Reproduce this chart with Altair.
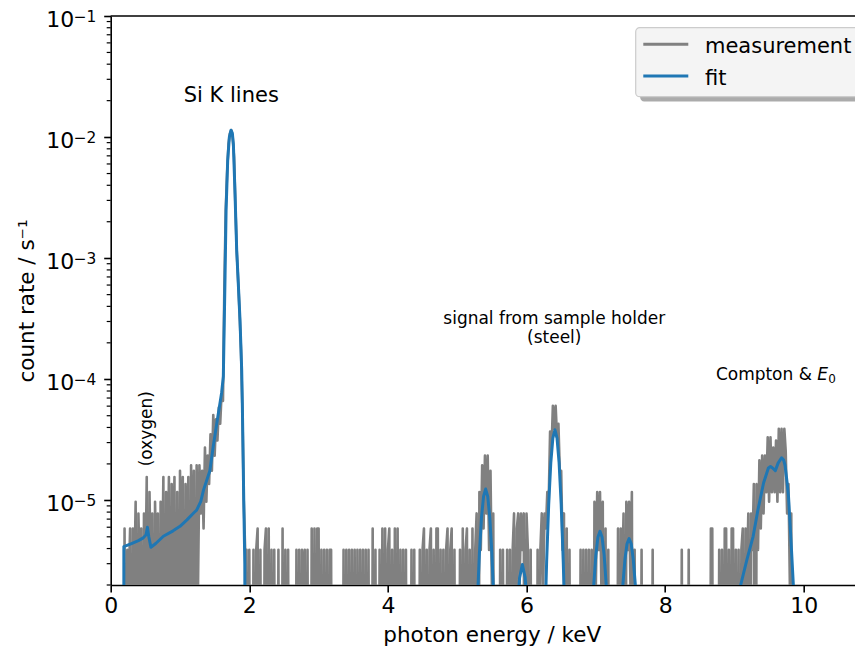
import math
import altair as alt
import pandas as pd

# ---------------------------------------------------------------- data
CHANNEL_KEV = 0.02          # channel width of the spectrum (keV)
RATE_PER_COUNT = 1.95e-6    # count rate of one registered count (s^-1)
EMPTY_RATE = 1e-9           # empty channels: drawn far below the axis (clipped)

# measured counts per channel, by spectral region
LOW_START = 0.18
LOW_COUNTS = [0, 3, 0, 2, 1, 3, 0, 3, 1, 5,
              0, 4, 1, 3, 0, 4, 1, 8, 0, 6,
              1, 4, 0, 5, 1, 4, 0, 5, 1, 8,
              0, 6, 1, 8, 0, 7, 1, 8, 0, 6,
              0, 9, 1, 8, 0, 7, 1, 8, 0, 10,
              1, 9, 0, 10, 1, 10, 4, 9, 3, 14,
              5, 12, 7, 18, 9, 26, 12, 24, 16, 30,
              22, 39, 34]
SI_START = 1.64
SI_COUNTS = [300, 1300, 2600, 4500, 5500, 5850, 5100, 3500, 1350, 560,
             330, 180, 90, 30, 5, 2]
BG_START = 1.96
BG_COUNTS = [2, 0, 2, 0, 0, 2, 0, 2, 3, 0,
             2, 0, 0, 2, 3, 0, 3, 0, 2, 0,
             2, 0, 0, 2, 0, 0, 3, 0, 2, 0,
             2, 0, 0, 0, 0, 0, 2, 0, 2, 0,
             2, 1, 2, 0, 2, 0, 0, 3, 0, 3,
             0, 3, 3, 0, 2, 0, 2, 0, 2, 0,
             2, 2, 0, 0, 0, 0, 0, 0, 0, 0,
             2, 0, 2, 0, 2, 0, 2, 0, 2, 0,
             2, 0, 2, 0, 2, 0, 2, 0, 2, 0,
             0, 3, 0, 2, 0, 0, 2, 0, 3, 0,
             3, 0, 2, 3, 0, 2, 0, 3, 0, 3,
             0, 2, 0, 2, 0, 2, 0, 0, 0, 2,
             0, 2, 0, 0, 0, 2, 0, 2, 3, 0,
             2, 0, 2, 3, 0, 2, 0, 3, 3, 0,
             2, 0, 2, 0, 2, 3, 0, 2, 3, 0,
             2, 0, 0, 0, 2, 0, 3, 0, 2, 3,
             0, 2, 0, 3, 0, 2]
STEEL_START = 5.28
STEEL_COUNTS = [4, 0, 6, 2, 10, 3, 12, 4, 12, 2,
                9, 1, 4, 0, 0, 0, 0, 2, 0, 2,
                0, 0, 2, 0, 2, 0, 2, 4, 0, 3,
                4, 1, 4, 2, 4, 0, 4, 2, 0, 2,
                0, 0, 0, 0, 2, 0, 2, 4, 1, 4,
                3, 6, 5, 19, 13, 31, 20, 31, 17, 22,
                9, 9, 2, 4, 0, 3, 0, 2, 0, 0,
                0, 0, 0, 0, 0, 2, 0, 2, 0, 2,
                0, 2, 0, 2, 0, 5, 1, 6, 2, 6,
                1, 5, 0, 3, 0, 2, 0]
TAIL_START = 7.22
TAIL_COUNTS = [0, 0, 0, 0, 0, 3, 0, 3, 1, 4,
               0, 5, 2, 5, 1, 6, 0, 2, 0, 0,
               0, 0, 2, 0, 0, 0, 0, 0, 0, 0,
               2, 0, 0, 0, 0, 0, 0, 0, 0, 0,
               0, 0, 0, 0, 0, 0, 0, 0, 0, 0,
               0, 2, 0, 0, 0, 0, 2, 0, 0, 0,
               0, 0, 0, 0, 0, 0, 0, 0, 0, 0,
               0, 0, 3, 3, 0, 0, 0, 0, 2, 0,
               2, 0, 3, 3, 0, 2, 0, 3, 3, 0,
               2, 0, 2, 0, 2, 3]
COMPTON_START = 9.14
COMPTON_COUNTS = [0, 3, 1, 4, 0, 4, 2, 7, 0, 7,
                  2, 11, 3, 12, 4, 12, 6, 17, 5, 17,
                  6, 14, 6, 16, 5, 20, 6, 20, 6, 20,
                  13, 4, 7, 1, 4, 0, 0, 0, 0]

# fitted model (energy in keV, count rate in s^-1)
FIT_ENERGY = [0.188, 0.19, 0.30, 0.40, 0.47, 0.51, 0.53, 0.55, 0.58, 0.65,
              0.76, 0.90, 1.00, 1.10, 1.20, 1.24, 1.30, 1.34, 1.43, 1.48,
              1.53, 1.60, 1.625, 1.65, 1.665, 1.688, 1.712, 1.736, 1.755, 1.77,
              1.794, 1.818, 1.841, 1.866, 1.89, 1.90, 1.92, 1.935, 1.95,
              5.26, 5.29, 5.32, 5.35, 5.38, 5.41, 5.44, 5.47, 5.50, 5.53, 5.56,
              5.84, 5.87, 5.90, 5.94, 5.98, 6.01, 6.04,
              6.26, 6.29, 6.32, 6.35, 6.38, 6.41, 6.44, 6.47, 6.50, 6.53, 6.56,
              6.94, 6.97, 7.00, 7.03, 7.06, 7.09, 7.12, 7.15, 7.18,
              7.36, 7.39, 7.42, 7.45, 7.48, 7.51, 7.54, 7.57, 7.60,
              9.05, 9.09, 9.18, 9.27, 9.34, 9.42, 9.49, 9.52, 9.55, 9.59,
              9.63, 9.68, 9.71, 9.73, 9.76, 9.78, 9.81, 9.85, 9.88]
FIT_RATE = [1e-9, 4.15e-6, 4.4e-6, 4.65e-6, 4.9e-6, 5.2e-6, 6.0e-6, 5.0e-6, 4.1e-6, 4.4e-6,
            5.05e-6, 5.6e-6, 6.1e-6, 6.9e-6, 7.9e-6, 8.3e-6, 9.8e-6, 1.22e-5, 1.75e-5, 2.8e-5,
            4.3e-5, 7.7e-5, 1.05e-4, 7.1e-4, 2.5e-3, 6.4e-3, 1.0e-2, 1.14e-2, 1.08e-2, 8.8e-3,
            3.4e-3, 1.17e-3, 6.2e-4, 3.05e-4, 1.2e-4, 5.9e-5, 1.0e-5, 3.0e-6, 1e-9,
            4.2e-7, 1.41e-6, 3.65e-6, 7.2e-6, 1.08e-5, 1.24e-5, 1.08e-5, 7.2e-6, 3.65e-6, 1.41e-6, 4.2e-7,
            6.2e-7, 1.38e-6, 2.3e-6, 2.95e-6, 2.3e-6, 1.38e-6, 6.2e-7,
            7.5e-7, 3.1e-6, 9.3e-6, 2.04e-5, 3.27e-5, 3.83e-5, 3.27e-5, 2.04e-5, 9.3e-6, 3.1e-6, 7.5e-7,
            9.1e-7, 2.0e-6, 3.53e-6, 4.96e-6, 5.55e-6, 4.96e-6, 3.53e-6, 2.0e-6, 9.1e-7,
            1.0e-6, 2.0e-6, 3.26e-6, 4.38e-6, 4.83e-6, 4.38e-6, 3.26e-6, 2.0e-6, 1.0e-6,
            1.2e-6, 2.0e-6, 3.24e-6, 5.05e-6, 8.4e-6, 1.39e-5, 1.85e-5, 1.9e-5, 1.85e-5, 1.76e-5,
            2.03e-5, 2.25e-5, 2.15e-5, 1.95e-5, 1.4e-5, 1.08e-5, 5.4e-6, 2.0e-6, 4e-7]

# annotations
BIG_TEXT = ["Si K lines"]
BIG_E = [1.74]
BIG_RATE = [1.96e-2]
SMALL_TEXT = ["signal from sample holder", "(steel)"]
SMALL_E = [6.40, 6.40]
SMALL_RATE = [2.84e-4, 2.0e-4]
OXY_TEXT = ["(oxygen)"]
OXY_E = [0.59]
OXY_RATE = [3.91e-5]
COMPTON_LABEL_E = [9.59]
COMPTON_LABEL_RATE = [9.87e-5]

X_TICKS = [0, 2, 4, 6, 8, 10]
Y_MAJOR = [1e-5, 1e-4, 1e-3, 1e-2, 1e-1]
MINOR_FACTORS = [2, 3, 4, 5, 6, 7, 8, 9]
MINOR_DECADES = [1e-6, 1e-5, 1e-4, 1e-3, 1e-2]

LEGEND_LABELS = ["measurement", "fit"]
LEGEND_COLORS = ["#808080", "#1f77b4"]

# ---------------------------------------------------------------- tables
rows = []
for start, counts in [(LOW_START, LOW_COUNTS), (SI_START, SI_COUNTS), (BG_START, BG_COUNTS),
                      (STEEL_START, STEEL_COUNTS), (TAIL_START, TAIL_COUNTS),
                      (COMPTON_START, COMPTON_COUNTS)]:
    for i, c in enumerate(counts):
        rows.append({"energy": round(start + i * CHANNEL_KEV, 3),
                     "rate": c * RATE_PER_COUNT if c > 0 else EMPTY_RATE})
meas_df = pd.DataFrame(rows)
fit_df = pd.DataFrame({"energy": FIT_ENERGY, "rate": FIT_RATE, "order": range(len(FIT_ENERGY))})
minor_df = pd.DataFrame({"rate": [f * d for d in MINOR_DECADES for f in MINOR_FACTORS
                                  if 2e-6 <= f * d < 0.1]})
exp_df = pd.DataFrame({"rate": Y_MAJOR,
                       "exp": ["\u2212" + str(int(round(-math.log10(v)))) for v in Y_MAJOR]})

FONT = "DejaVu Sans"
TICK_FS = 22
W, H = 744, 569
xscale = alt.Scale(domain=[0, 10.735], nice=False, zero=False)
yscale = alt.Scale(type="log", domain=[2e-6, 0.1], nice=False)

x_axis = alt.Axis(values=X_TICKS, format="d", title="photon energy / keV",
                  titleX=381, titleY=57, titleBaseline="alphabetic", titleAlign="center",
                  labelFontSize=TICK_FS, titleFontSize=21.5, tickSize=7, labelPadding=4,
                  grid=False, labelFlush=False)
y_axis = alt.Axis(values=Y_MAJOR, title="count rate / s⁻¹", labelExpr="'10'",
                  titleX=-77, titleY=284.5, titleAngle=270, titleBaseline="alphabetic",
                  titleAlign="center", labelFontSize=TICK_FS, titleFontSize=21.5, tickSize=7,
                  labelPadding=30, labelBaseline="alphabetic", labelOffset=10.5,
                  grid=False, labelFlush=False)

X = alt.X("energy:Q", scale=xscale)
Y = alt.Y("rate:Q", scale=yscale)

meas = alt.Chart(meas_df).mark_line(color="#808080", strokeWidth=2.6, clip=True,
                                    strokeJoin="round").encode(
    x=alt.X("energy:Q", scale=xscale, axis=x_axis),
    y=alt.Y("rate:Q", scale=yscale, axis=y_axis))

fit = alt.Chart(fit_df).mark_line(color="#1f77b4", strokeWidth=3, clip=True,
                                  strokeJoin="round").encode(x=X, y=Y, order="order:Q")

minor = alt.Chart(minor_df).mark_rule(color="black", strokeWidth=1.2).encode(
    y=Y, x=alt.value(-4), x2=alt.value(0))

# superscript exponents of the y tick labels (10^-n)
exps = alt.Chart(exp_df).mark_text(font=FONT, fontSize=TICK_FS * 0.7, align="right",
                                   baseline="alphabetic", dy=5.5, color="black").encode(
    y=Y, x=alt.value(-14.3), text="exp:N")

big = alt.Chart(pd.DataFrame({"t": BIG_TEXT, "energy": BIG_E, "rate": BIG_RATE})).mark_text(
    font=FONT, fontSize=21, align="center", baseline="alphabetic", color="black").encode(
    x=X, y=Y, text="t:N")

small = alt.Chart(pd.DataFrame({"t": SMALL_TEXT, "energy": SMALL_E, "rate": SMALL_RATE})).mark_text(
    font=FONT, fontSize=17, align="center", baseline="alphabetic", color="black").encode(
    x=X, y=Y, text="t:N")

oxy = alt.Chart(pd.DataFrame({"t": OXY_TEXT, "energy": OXY_E, "rate": OXY_RATE})).mark_text(
    font=FONT, fontSize=17, align="center", baseline="alphabetic", angle=270, color="black").encode(
    x=X, y=Y, text="t:N")

comp_df = pd.DataFrame({"energy": COMPTON_LABEL_E, "rate": COMPTON_LABEL_RATE})
comp_base = alt.Chart(comp_df).encode(x=X, y=Y)
comp1 = comp_base.mark_text(font=FONT, fontSize=17, align="right", baseline="alphabetic",
                            dx=36.6, text="Compton &", color="black")
comp2 = comp_base.mark_text(font=FONT, fontSize=17, align="left", baseline="alphabetic",
                            dx=42, text="E", fontStyle="italic", color="black")
comp3 = comp_base.mark_text(font=FONT, fontSize=12, align="left", baseline="alphabetic",
                            dx=53, dy=3, text="0", color="black")

one = pd.DataFrame({"k": [0]})
top_spine = alt.Chart(one).mark_rule(color="black", strokeWidth=1.6).encode(
    x=alt.value(0), x2=alt.value(W + 2), y=alt.value(0))
shadow = alt.Chart(one).mark_rect(fill="#ababab", cornerRadius=4).encode(
    x=alt.value(529.5), x2=alt.value(790), y=alt.value(16.5), y2=alt.value(85.5))
box = alt.Chart(one).mark_rect(fill="#f4f4f4", stroke="#cccccc", strokeWidth=1.2,
                               cornerRadius=4).encode(
    x=alt.value(525), x2=alt.value(785), y=alt.value(11.7), y2=alt.value(80.7))
legend_layers = []
for i, (lab, col) in enumerate(zip(LEGEND_LABELS, LEGEND_COLORS)):
    ldf = pd.DataFrame({"label": [lab]})
    legend_layers.append(alt.Chart(ldf).mark_rule(color=col, strokeWidth=3).encode(
        x=alt.value(532.6), x2=alt.value(577.6), y=alt.value(28.3 + 31.7 * i)))
    legend_layers.append(alt.Chart(ldf).mark_text(
        font=FONT, fontSize=21, align="left", baseline="alphabetic", color="black").encode(
        x=alt.value(594.3), y=alt.value(37 + 32 * i), text="label:N"))

chart = alt.layer(meas, fit, minor, exps, big, small, oxy, comp1, comp2, comp3, top_spine,
                  shadow, box, *legend_layers).properties(
    width=W, height=H,
    padding={"left": 102.7, "top": 8, "right": 0, "bottom": 61},
    autosize=alt.AutoSizeParams(type="none"),
).configure(font=FONT).configure_view(
    stroke=None
).configure_axis(
    domainColor="black", domainWidth=1.6, tickColor="black", tickWidth=1.6,
    labelColor="black", titleColor="black", labelFont=FONT, titleFont=FONT,
    titleFontWeight="normal")

chart.save("out.html", embed_options={"renderer": "svg", "actions": False})
